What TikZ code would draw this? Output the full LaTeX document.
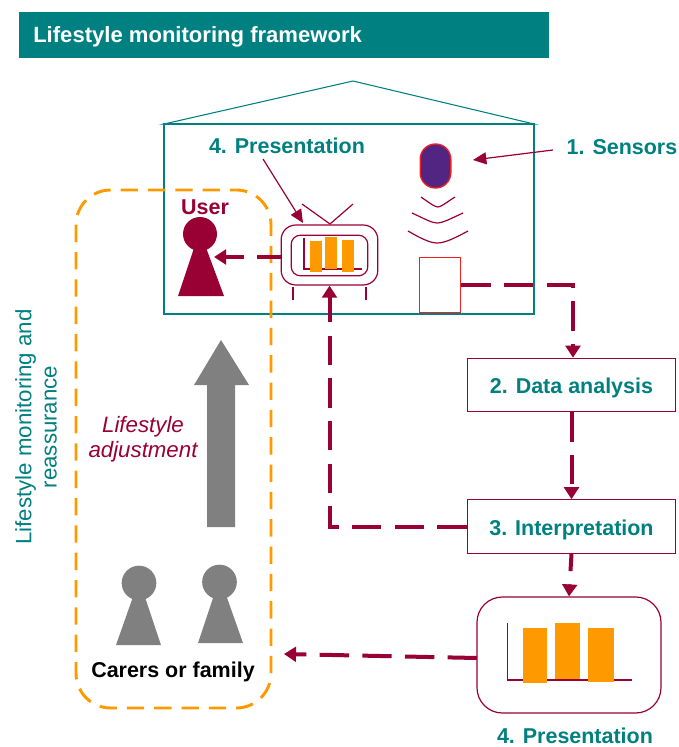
\documentclass[tikz,border=0pt]{standalone}
\usepackage{fontspec}
\setmainfont{Liberation Sans}
\usetikzlibrary{arrows.meta}
\definecolor{tealc}{HTML}{008080}
\definecolor{crim}{HTML}{990033}
\definecolor{orng}{HTML}{FF9900}
\definecolor{purp}{HTML}{522583}
\definecolor{redc}{HTML}{F02020}
\definecolor{grayc}{HTML}{808080}
\tikzset{
  x=0.75pt,y=-0.75pt,
  lbl/.style={font=\fontsize{16.1}{19}\selectfont\bfseries,text=tealc,inner sep=0pt},
  flowbox/.style={draw=crim,line width=0.9pt,fill=white,inner sep=0pt,minimum height=40pt},
  flow/.style={draw=crim,line width=3pt,dash pattern=on 22pt off 10pt,-{Triangle[length=9pt,width=11pt]}},
  thin arrow/.style={draw=crim,line width=0.9pt,-{Triangle[length=10pt,width=9pt]}},
  thinline/.style={draw=crim,line width=0.9pt},
  bar/.style={fill=orng,draw=none},
  axis/.style={draw=crim,line width=0.9pt},
}
\begin{document}
\begin{tikzpicture}
\useasboundingbox (0,0) rectangle (679,747);
% banner
\fill[tealc] (19,12) rectangle (549,58);
\node[anchor=west,text=white,font=\fontsize{16.55}{18}\selectfont\bfseries,inner sep=0pt] (title) at (33,37) {Lifestyle monitoring framework};
% house
\draw[tealc,line width=0.8pt] (164,124) -- (353,81) -- (534,124) -- cycle;
\draw[tealc,line width=0.8pt] (164,124) rectangle (534,314);
% labels
\node[lbl] (pres1) at (287,146) {4. Presentation};
\node[lbl] (sens) at (622,147) {1. Sensors};
% sensor
\node[draw=redc,fill=purp,line width=1pt,rounded corners=11.4pt,minimum width=23pt,minimum height=33pt,inner sep=0pt] (pill) at (435.5,166) {};
\draw[thinline] (421,197) .. controls (431,204) and (435,207) .. (438,207) .. controls (441,207) and (447,202) .. (455,197);
\draw[thinline] (412,213) .. controls (425,219) and (432,223) .. (437,223) .. controls (443,223) and (452,218) .. (463,213);
\draw[thinline] (408,231) .. controls (420,238) and (430,243) .. (437,243) .. controls (445,243) and (455,238) .. (468,231);
\node[draw=redc,fill=white,line width=1.2pt,minimum width=31pt,minimum height=41.5pt,inner sep=0pt] (sbox) at (440,285) {};
% TV
\node[draw=crim,line width=0.9pt,rounded corners=11pt,minimum width=72.5pt,minimum height=45pt,inner sep=0pt,fill=white] (tv) at (329.5,255) {};
\node[draw=crim,line width=0.9pt,rounded corners=7pt,minimum width=57.5pt,minimum height=30.5pt,inner sep=0pt] (tvin) at (329.5,255.5) {};
\draw[thinline] (302,204) -- (330,224) -- (353,204);
\draw[thinline] (293,287) -- (293,300);
\draw[thinline] (366,287) -- (366,300);
\draw[axis] (304,238) -- (304,269) -- (362,269);
\fill[bar] (310,241) rectangle (322,272);
\fill[bar] (325,237) rectangle (337,269);
\fill[bar] (342,240) rectangle (354,272);
% user
\node[font=\fontsize{16.1}{19}\selectfont\bfseries,text=crim,inner sep=0pt] (ulabel) at (205,207) {User};
\fill[crim] (178,296) -- (224,296) -- (205,245) -- (195,245) -- cycle;
\node[circle,fill=crim,minimum size=25.5pt,inner sep=0pt] (uhead) at (200,234) {};
\coordinate (ubody) at (214,257);
% orange dashed
\draw[orng,line width=2.2pt,dash pattern=on 13pt off 7.5pt,rounded corners=26pt] (76,190) rectangle (271,708);
% gray arrow
\fill[grayc] (207,527) -- (207,385) -- (194,385) -- (221,340) -- (249,385) -- (235,385) -- (235,527) -- cycle;
% gray people
\fill[grayc] (116,645) -- (161,645) -- (144,594) -- (134,594) -- cycle;
\node[circle,fill=grayc,minimum size=26pt,inner sep=0pt] (c1) at (139,583) {};
\fill[grayc] (198,643) -- (243,643) -- (225,592) -- (215,592) -- cycle;
\node[circle,fill=grayc,minimum size=26pt,inner sep=0pt] (c2) at (219.5,582) {};
\node[font=\fontsize{16.1}{18}\selectfont\bfseries,text=black,inner sep=0pt] (carers) at (173,672) {Carers or family};
\coordinate (cend) at (284,654);
% side text
\node[rotate=90,align=center,text=tealc,font=\fontsize{16.7}{19}\selectfont,inner sep=0pt] (side) at (36,427) {Lifestyle monitoring and\\reassurance};
\node[align=center,text=crim,font=\fontsize{16.7}{19}\selectfont\itshape,inner sep=0pt] (adj) at (143,439) {Lifestyle\\adjustment};
% boxes
\node[flowbox,minimum width=156.5pt] (da) at (571.5,385) {};
\node[lbl] (datxt) at (571.5,388) {2. Data analysis};
\node[flowbox,minimum width=156.5pt] (ip) at (571.5,526.5) {};
\node[lbl] (iptxt) at (571.5,530) {3. Interpretation};
\node[draw=crim,line width=0.9pt,rounded corners=19pt,minimum width=138pt,minimum height=87pt,inner sep=0pt] (pb) at (569,655) {};
\draw[axis] (507.7,623) -- (507.7,680) -- (632,680);
\fill[bar] (523,628) rectangle (547,683);
\fill[bar] (555,623) rectangle (580,679);
\fill[bar] (588,628) rectangle (614,682);
\node[lbl] (pres2) at (575,736) {4. Presentation};
% thin arrows
\coordinate (ptail) at (263,159);
\coordinate (phead) at (303,223);
\coordinate (stail) at (553,150);
\coordinate (shead) at (473,160);
\draw[thin arrow] (ptail) -- (phead);
\draw[thin arrow] (stail) -- (shead);
% flows
\coordinate (tvout) at (281,257);
\coordinate (turn) at (573,285);
\coordinate (pbout) at (477,658);
\draw[flow,dash phase=4pt] (tvout) -- (ubody);
\draw[flow] (sbox.east) -- (turn) -- (turn |- da.north);
\draw[flow] (da.south) -- (ip.north);
\draw[flow] (ip.west) -- (tv.south |- ip.west) -- (tv.south);
\draw[flow,dash phase=9pt] (ip.south) -- (pb.north);
\draw[flow] (pbout) -- (cend);
\end{tikzpicture}
\end{document}
